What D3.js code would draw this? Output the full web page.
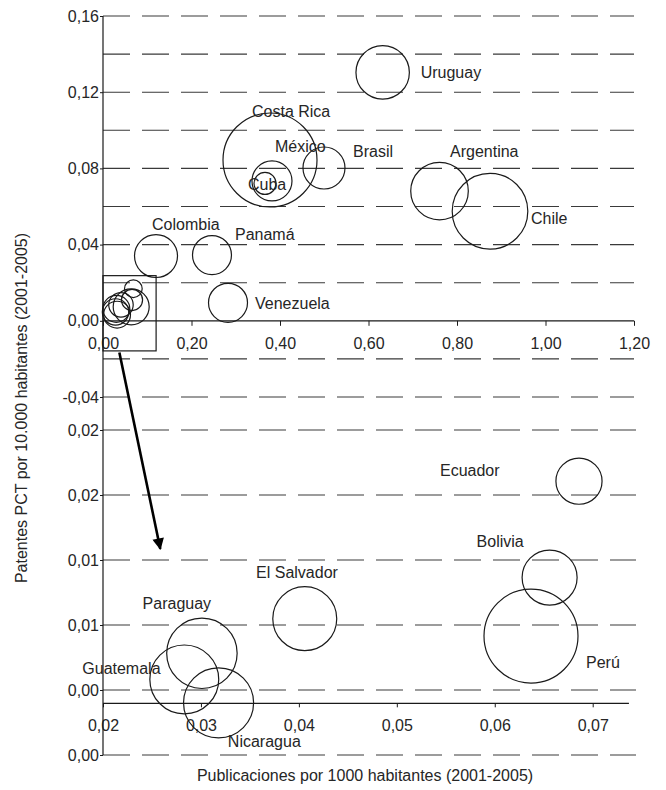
<!DOCTYPE html>
<html><head><meta charset="utf-8">
<script src="https://cdn.jsdelivr.net/npm/d3@7"></script>
<style>
body{margin:0;background:#fff}
svg text{font-family:"Liberation Sans",Arial,Helvetica,sans-serif;fill:#262626}
</style>
</head><body>
<svg id="chart" width="666" height="790"></svg>
<script>
// ---------- DATA ----------
// Upper panel (all countries)
const topCountries = ["Uruguay","Costa Rica","México","Cuba","Brasil","Argentina","Chile","Colombia","Panamá","Venezuela"];
const topPubs      = [0.632, 0.3774, 0.3819, 0.3661, 0.4994, 0.7605, 0.8746, 0.1198, 0.2463, 0.2825];
const topPatents   = [0.1304, 0.0844, 0.0734, 0.0721, 0.0802, 0.0681, 0.0575, 0.0340, 0.0345, 0.00945];
const topSizes     = [7.13, 22.09, 4.0, 1.21, 4.41, 8.29, 14.29, 4.62, 3.80, 3.80];

// Lower panel (zoom on small values)
const smallCountries = ["Ecuador","Bolivia","El Salvador","Paraguay","Guatemala","Nicaragua","Perú"];
const smallPubs      = [0.0686, 0.0656, 0.0406, 0.0301, 0.0283, 0.0318, 0.0637];
const smallPatents   = [0.01685, 0.01092, 0.00839, 0.00626, 0.00465, 0.00321, 0.00732];
const smallSizes     = [0.78, 1.11, 1.50, 1.82, 1.74, 1.80, 3.24];

// Ticks
const topXTicks    = [0, 0.2, 0.4, 0.6, 0.8, 1.0, 1.2];
const topYTicks    = [-0.04, 0, 0.04, 0.08, 0.12, 0.16];
const topGridVals  = [-0.04, -0.02, 0.02, 0.04, 0.06, 0.08, 0.10, 0.12, 0.14, 0.16];
const botXTicks    = [0.02, 0.03, 0.04, 0.05, 0.06, 0.07];
const botYTicks    = [0, 0.004, 0.008, 0.012, 0.016, 0.020];

const xTitle = "Publicaciones por 1000 habitantes (2001-2005)";
const yTitle = "Patentes PCT por 10.000 habitantes (2001-2005)";

// Zoom box (data coords of upper panel) and arrow
const zoomBoxX = [0, 0.12];
const zoomBoxY = [-0.0158, 0.0237];

// ---------- LAYOUT (label offsets from bubble centre, px) ----------
const labelOffset = {
  "Uruguay":[38,6], "Costa Rica":[-18,-43.5], "México":[3,-29], "Cuba":[-17,6.5],
  "Brasil":[29,-11], "Argentina":[10.5,-34], "Chile":[41,13], "Colombia":[-4,-26],
  "Panamá":[23,-15], "Venezuela":[27,6],
  "Ecuador":[-139,-5], "Bolivia":[-73,-30.5], "El Salvador":[-48.7,-40.7],
  "Paraguay":[-59.3,-43.8], "Guatemala":[-102,-5.5], "Nicaragua":[9.3,44], "Perú":[55,32]
};

const loc = d3.formatLocale({decimal:",", thousands:".", grouping:[3], currency:["","€"], minus:"-"});
const fmt = loc.format(".2f");

const svg = d3.select("#chart");
const INK = "#1a1a1a", GRID = "#3a3a3a";

// ---------- SCALES ----------
const xTop = d3.scaleLinear().domain([0, 1.2]).range([103, 634]);
const yTop = d3.scaleLinear().domain([-0.04, 0.16]).range([397, 16]);
const rTop = d3.scaleSqrt().domain([0, d3.max(topSizes.concat(smallSizes))]).range([0, 47]);

const xBot = d3.scaleLinear().domain([0.02, 0.07]).range([103, 592.7]);
const yBot = d3.scaleLinear().domain([0, 0.02]).range([755, 430]);
const rBot = d3.scaleSqrt().domain([0, d3.max(smallSizes)]).range([0, 47]);
const botXCross = 0.00318, botXMax = 0.0737, botYMax = 0.0219;

// ---------- GRIDLINES ----------
const dash = "27,12";
svg.append("g").selectAll("line").data(topGridVals).join("line")
  .attr("x1", xTop(0)).attr("x2", 634)
  .attr("y1", d => yTop(d)).attr("y2", d => yTop(d))
  .attr("stroke", GRID).attr("stroke-width", 1.1).attr("stroke-dasharray", dash);
svg.append("g").selectAll("line").data(botYTicks).join("line")
  .attr("x1", xBot(0.02)).attr("x2", 636)
  .attr("y1", d => yBot(d)).attr("y2", d => yBot(d))
  .attr("stroke", GRID).attr("stroke-width", 1.1).attr("stroke-dasharray", dash);

// ---------- AXES ----------
function styleAxis(g){
  g.selectAll("path.domain").remove();
  g.selectAll(".tick line").attr("stroke", INK);
  g.selectAll(".tick text").attr("font-size", 16).attr("fill", "#262626")
    .style("font-family", '"Liberation Sans", Arial, sans-serif');
}
// upper y
svg.append("g").attr("transform", `translate(${xTop(0)},0)`)
  .call(d3.axisLeft(yTop).tickValues(topYTicks).tickFormat(fmt).tickSize(3).tickPadding(1))
  .call(styleAxis);
// upper x
svg.append("g").attr("transform", `translate(0,${yTop(0)})`)
  .call(d3.axisBottom(xTop).tickValues(topXTicks).tickFormat(fmt).tickSize(5).tickPadding(12))
  .call(styleAxis);
// lower y
svg.append("g").attr("transform", `translate(${xBot(0.02)},0)`)
  .call(d3.axisLeft(yBot).tickValues(botYTicks).tickFormat(fmt).tickSize(3).tickPadding(1))
  .call(styleAxis);
// lower x
svg.append("g").attr("transform", `translate(0,${yBot(botXCross)})`)
  .call(d3.axisBottom(xBot).tickValues(botXTicks).tickFormat(fmt).tickSize(4).tickPadding(12))
  .call(styleAxis);

// axis lines
svg.append("line").attr("x1", xTop(0)).attr("x2", xTop(0)).attr("y1", yTop(0.16)).attr("y2", yBot(0))
  .attr("stroke", INK).attr("stroke-width", 1.2);
svg.append("line").attr("x1", xTop(0)).attr("x2", xTop(1.2)).attr("y1", yTop(0)).attr("y2", yTop(0))
  .attr("stroke", INK).attr("stroke-width", 1.2);
svg.append("line").attr("x1", xBot(0.02)).attr("x2", xBot(botXMax)).attr("y1", yBot(botXCross)).attr("y2", yBot(botXCross))
  .attr("stroke", INK).attr("stroke-width", 1.2);

// ---------- BUBBLES ----------
const topData = topCountries.map((c,i) => ({c, x: topPubs[i], y: topPatents[i], s: topSizes[i], label: true}))
  .concat(smallCountries.map((c,i) => ({c, x: smallPubs[i], y: smallPatents[i], s: smallSizes[i], label: false})));
const botData = smallCountries.map((c,i) => ({c, x: smallPubs[i], y: smallPatents[i], s: smallSizes[i]}));

svg.append("g").selectAll("circle").data(topData).join("circle")
  .attr("cx", d => xTop(d.x)).attr("cy", d => yTop(d.y)).attr("r", d => rTop(d.s))
  .attr("fill", "none").attr("stroke", INK).attr("stroke-width", 1.2);
svg.append("g").selectAll("circle").data(botData).join("circle")
  .attr("cx", d => xBot(d.x)).attr("cy", d => yBot(d.y)).attr("r", d => rBot(d.s))
  .attr("fill", "none").attr("stroke", INK).attr("stroke-width", 1.2);

// labels
svg.append("g").selectAll("text").data(topData.filter(d => d.label)).join("text")
  .attr("x", d => xTop(d.x) + labelOffset[d.c][0]).attr("y", d => yTop(d.y) + labelOffset[d.c][1])
  .attr("font-size", 16).text(d => d.c);
svg.append("g").selectAll("text").data(botData).join("text")
  .attr("x", d => xBot(d.x) + labelOffset[d.c][0]).attr("y", d => yBot(d.y) + labelOffset[d.c][1])
  .attr("font-size", 16).text(d => d.c);

// ---------- ZOOM BOX + ARROW ----------
svg.append("rect")
  .attr("x", xTop(zoomBoxX[0])).attr("y", yTop(zoomBoxY[1]))
  .attr("width", xTop(zoomBoxX[1]) - xTop(zoomBoxX[0]))
  .attr("height", yTop(zoomBoxY[0]) - yTop(zoomBoxY[1]))
  .attr("fill", "none").attr("stroke", INK).attr("stroke-width", 1.2);

svg.append("defs").append("marker").attr("id", "ah")
  .attr("viewBox", "0 0 10 10").attr("refX", 9).attr("refY", 5)
  .attr("markerWidth", 5).attr("markerHeight", 4.5).attr("markerUnits", "strokeWidth")
  .attr("orient", "auto")
  .append("path").attr("d", "M0,0 L10,5 L0,10 Z").attr("fill", "#000");
svg.append("line")
  .attr("x1", xTop(0.037)).attr("y1", yTop(-0.0166))
  .attr("x2", xBot(0.02585)).attr("y2", yBot(0.01268))
  .attr("stroke", "#000").attr("stroke-width", 2.6).attr("marker-end", "url(#ah)");

// ---------- TITLES ----------
svg.append("text").attr("x", 365).attr("y", 781).attr("text-anchor", "middle")
  .attr("font-size", 16).text(xTitle);
svg.append("text").attr("transform", "translate(27,408) rotate(-90)").attr("text-anchor", "middle")
  .attr("font-size", 16).text(yTitle);
</script>
</body></html>
